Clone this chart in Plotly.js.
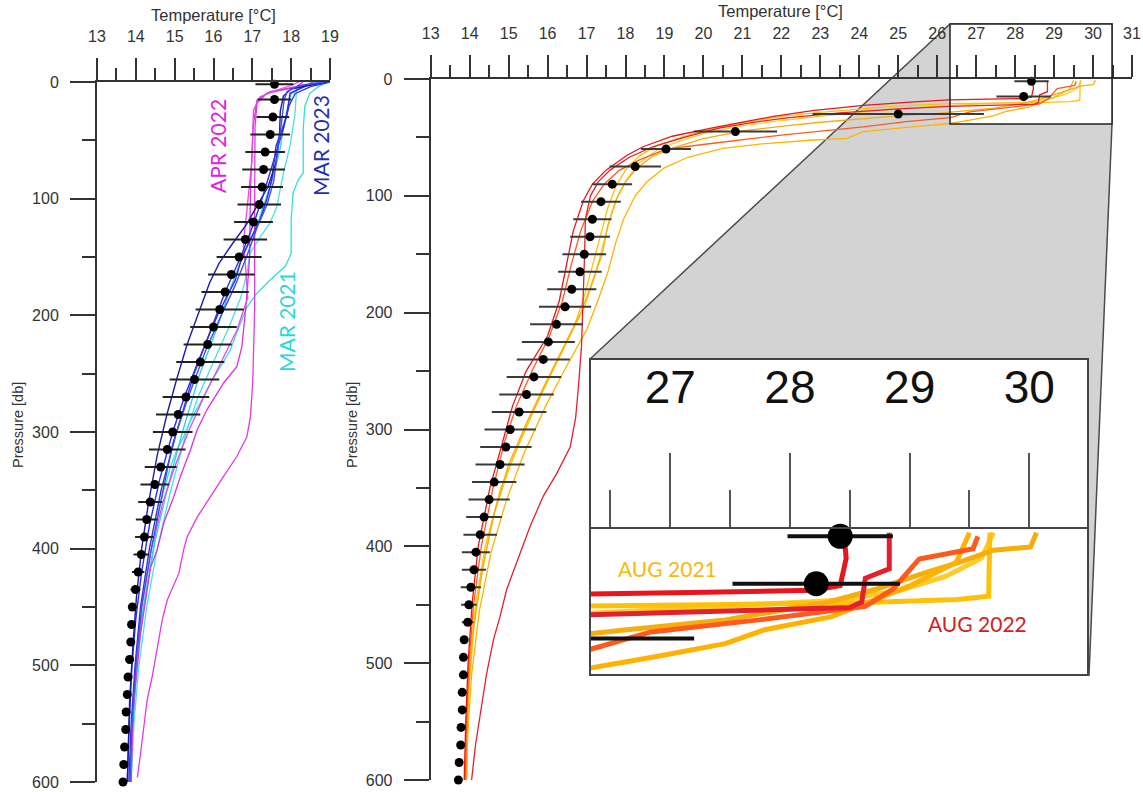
<!DOCTYPE html>
<html>
<head>
<meta charset="utf-8">
<script src="https://cdn.plot.ly/plotly-3.0.1.min.js"></script>
<style>
  html, body { margin: 0; padding: 0; background: #ffffff; }
  #chart { width: 1143px; height: 792px; }
</style>
</head>
<body>
<div id="chart"></div>
<script>
// ---------------- data ----------------
// Pressure bins (db) of the averaged profiles
const depthBins = [2,15,30,45,60,75,90,105,120,135,150,165,180,195,210,225,240,255,270,285,300,315,330,345,360,375,390,405,420,435,450,465,480,495,510,525,540,555,570,585,600];

// Spring (MAR/APR) mean temperature and spread
const springMeanT = [17.57,17.57,17.53,17.46,17.33,17.29,17.25,17.18,17.03,16.82,16.66,16.46,16.30,16.16,16.00,15.85,15.66,15.51,15.29,15.09,14.95,14.81,14.64,14.49,14.37,14.28,14.22,14.14,14.06,13.99,13.91,13.89,13.87,13.84,13.80,13.78,13.75,13.74,13.71,13.69,13.67];
const springStd   = [0.49,0.43,0.42,0.51,0.51,0.55,0.54,0.56,0.50,0.56,0.58,0.60,0.61,0.62,0.60,0.62,0.62,0.64,0.60,0.57,0.51,0.47,0.41,0.37,0.31,0.28,0.24,0.20,0.16,0.13,0.10,0.08,0.06,0.04,0,0,0,0,0,0,0];

// Summer (AUG) mean temperature and spread
const summerMeanT = [28.42,28.22,25.00,20.82,19.04,18.25,17.66,17.37,17.15,17.09,16.94,16.83,16.62,16.45,16.23,16.02,15.89,15.65,15.46,15.27,15.04,14.93,14.78,14.63,14.50,14.37,14.27,14.16,14.11,14.03,13.98,13.95,13.86,13.84,13.84,13.81,13.81,13.78,13.77,13.73,13.71];
const summerStd   = [0.44,0.70,2.20,1.07,0.64,0.66,0.51,0.51,0.49,0.51,0.56,0.56,0.63,0.67,0.68,0.68,0.68,0.70,0.70,0.70,0.66,0.66,0.63,0.57,0.53,0.46,0.43,0.36,0.31,0.26,0.20,0.15,0.10,0.08,0.05,0,0,0,0,0,0];

// APR 2022 profiles
const apr22a_p = [0,2.6,5.4,9.7,18.3,38,95,150,195,258,287,304,321,338,355,373,390,401,421,444,461,487,510,530,553,576,596];
const apr22a_t = [18.55,18.4,17.97,17.37,17.12,17.07,17.06,17.07,17.06,17.01,16.95,16.86,16.6,16.26,15.92,15.58,15.32,15.23,15.11,14.81,14.68,14.55,14.42,14.29,14.21,14.12,14.04];
const apr22b_p = [0,4,8.3,15.4,38,95,150,187,227,244,258,267,281,298,315,338,355,378,401,416,444,473,501,530,558,600];
const apr22b_t = [18.3,18.14,17.46,17.12,17.02,16.95,16.93,16.85,16.73,16.6,16.26,16.09,15.83,15.58,15.41,15.15,14.98,14.72,14.55,14.38,14.25,14.12,14.04,13.95,13.91,13.88];
const apr22c_p = [0,3,6.9,12.6,24,67,110,138,160,185,213,240,270,300,330,360,400,450,500,550,600];
const apr22c_t = [18.2,18.0,17.63,17.2,17.03,16.99,16.86,16.77,16.83,16.88,16.6,16.2,15.75,15.35,15.0,14.7,14.4,14.15,14.0,13.92,13.86];

// MAR 2023 profiles
const mar23a_p = [0,3,9.7,29.7,41,55,84,101,118,135,150,170,184,198,211,240,270,300,340,380,420,460,500,550,600];
const mar23a_t = [18.95,18.4,17.97,17.88,17.76,17.61,17.5,17.37,17.2,16.94,16.73,16.56,16.34,16.13,15.96,15.6,15.25,14.95,14.62,14.35,14.15,14.0,13.9,13.83,13.78];
const mar23b_p = [0,2.6,6,12,25,45,70,90,107,122,138,155,172,190,205,225,255,285,320,360,400,440,480,530,600];
const mar23b_t = [18.9,18.5,18.0,17.8,17.72,17.7,17.6,17.4,17.1,16.85,16.5,16.15,15.9,15.7,15.55,15.32,15.05,14.8,14.55,14.33,14.15,14.02,13.93,13.84,13.78];
const mar23c_p = [0,4,10,20,40,60,80,100,120,150,180,210,250,300,350,400,450,500,550,600];
const mar23c_t = [19.0,18.5,18.1,17.95,17.8,17.62,17.45,17.25,17.05,16.7,16.3,15.95,15.5,15.05,14.65,14.35,14.12,13.98,13.88,13.82];
const mar23d_p = [0,3,8,15,35,60,85,105,125,150,175,200,230,270,310,350,400,450,500,550,600];
const mar23d_t = [18.85,18.2,17.9,17.82,17.75,17.65,17.55,17.38,17.12,16.85,16.55,16.2,15.8,15.35,14.95,14.7,14.4,14.15,14.0,13.9,13.85];

// MAR 2021 profiles
const mar21a_p = [0,4,9.7,21,41,78,84,95,118,147,158,170,181,193,215,230,244,258,275,290,304,315,330,350,373,401,430,460,500,550,600];
const mar21a_t = [18.95,18.7,18.48,18.35,18.31,18.31,18.18,18.05,18.0,18.0,17.85,17.45,17.12,16.86,16.6,16.43,16.18,15.92,15.66,15.41,15.23,15.06,14.89,14.72,14.55,14.46,14.3,14.15,14.02,13.93,13.87];
const mar21b_p = [0,5,27,55,78,107,121,133,147,164,185,210,240,270,300,350,400,450,500,550,600];
const mar21b_t = [18.7,18.14,18.1,17.97,17.8,17.63,17.45,17.2,16.94,16.86,16.7,16.4,16.0,15.6,15.3,14.9,14.55,14.28,14.08,13.95,13.88];
const mar21c_p = [0,4,10,30,60,90,120,150,180,210,250,300,350,400,450,500,550,600];
const mar21c_t = [18.6,18.3,18.0,17.85,17.7,17.45,17.15,16.75,16.4,16.1,15.65,15.2,14.8,14.45,14.2,14.02,13.92,13.86];

// AUG 2022 profiles
const aug22a_p = [1,8,15.5,16.8,17.3,17.8,19.5,22.5,27,32,37,42,49,58,65,78,90,104,130,160,190,220,250,280,310,350,400,450,500,550,600];
const aug22a_t = [28.45,28.47,28.42,28.2,27.3,26.3,25.4,24.1,22.8,21.8,21.0,20.2,19.2,18.45,18.05,17.5,17.15,16.92,16.66,16.48,16.3,16.0,15.45,15.1,14.85,14.52,14.22,14.06,13.96,13.9,13.86];
const aug22b_p = [1,10.9,13.5,20,21.5,22.5,23.5,25.5,29,33,37.5,42,50,58,67,78,88,100,120,150,172,200,229,260,290,315,338,357,383,410,437,460,480,510,543,570,600];
const aug22b_t = [28.83,28.83,28.63,28.6,28.5,27.5,26.33,25.0,23.5,22.2,21.2,20.4,19.5,18.7,18.1,17.6,17.3,17.1,16.97,16.95,16.93,16.9,16.87,16.8,16.72,16.58,16.23,15.89,15.55,15.25,14.95,14.78,14.61,14.43,14.27,14.15,14.05];
const aug22c_p = [2,5.4,8.2,16.5,21.2,24.9,28.2,33,36.5,41,48,55,60,69,78,90,105,130,160,190,220,250,280,310,350,400,450,500,550,600];
const aug22c_t = [29.57,29.53,29.08,28.86,28.63,27.74,26.84,26.33,25.2,24.1,22.0,20.25,19.04,18.37,17.85,17.45,17.15,16.85,16.6,16.38,16.05,15.6,15.2,14.9,14.6,14.3,14.1,13.98,13.92,13.89];

// AUG 2021 profiles
const aug21a_p = [1,10,18.4,19.3,20.2,20.7,21.1,23,25.5,28.5,32,37,43,49,57,66,78,92,110,135,160,185,210,245,280,310,350,400,450,500,550,600];
const aug21a_t = [29.67,29.67,29.66,29.4,28.58,27.5,26.33,25.0,24.0,23.0,22.0,21.1,20.2,19.5,18.8,18.35,18.0,17.75,17.55,17.35,17.15,16.95,16.7,16.2,15.7,15.3,14.8,14.4,14.15,14.0,13.93,13.9];
const aug21b_p = [1,4.9,5.8,9.1,11.9,16.5,20.2,24.9,27.7,29.5,31.5,34,37,40.5,44.5,51,58,66,76,88,104,125,150,178,200,230,260,295,330,375,425,475,525,600];
const aug21b_t = [30.06,30.01,29.7,29.42,29.14,28.72,28.3,27.46,26.62,26.0,25.0,24.0,23.0,22.0,21.0,20.0,19.3,18.7,18.3,18.0,17.75,17.55,17.4,17.1,16.85,16.4,15.95,15.45,15.0,14.6,14.3,14.08,13.97,13.92];
const aug21c_p = [1,5,9.1,15.6,24,27.6,31.4,35.2,38.1,40.5,45,50.8,52.2,55.5,59.4,67,76,88,100,120,140,165,189,215,245,280,320,360,405,455,510,560,600];
const aug21c_t = [29.5,29.45,29.39,29.0,28.35,27.79,27.46,26.84,26.33,25.5,24.1,23.68,22.82,21.5,20.5,19.6,19.0,18.55,18.25,17.95,17.75,17.55,17.3,17.0,16.5,15.95,15.4,14.95,14.55,14.25,14.05,13.95,13.92];
const aug21d_p = [1,8,13,17,19.5,21.5,22.5,25,28,31.5,35.5,40,46,53,61,72,85,100,120,145,170,195,225,258,292,330,370,415,465,520,600];
const aug21d_t = [29.7,29.6,29.3,28.9,28.4,27.0,26.33,25.2,24.2,23.1,22.0,21.0,20.1,19.4,18.8,18.35,18.05,17.8,17.6,17.4,17.2,16.95,16.5,16.0,15.5,15.05,14.65,14.35,14.12,13.99,13.9];

// ---------------- layout helpers (pixel -> paper) ----------------
const W = 1143, H = 792;
const px = x => x / W;
const py = y => 1 - y / H;

const tickFont = { family: 'Liberation Sans, Arial, sans-serif', size: 16, color: '#333333' };
const axisBase = {
  showline: true, linecolor: '#333333', linewidth: 2,
  ticks: 'outside', tickcolor: '#333333', tickwidth: 2,
  showgrid: false, zeroline: false, fixedrange: true,
  tickfont: tickFont
};
// temperature axis: line and ticks (labels are carried by a companion axis)
const xTop = (domain, range, anchor) => Object.assign({}, axisBase, {
  domain, range, anchor, side: 'top', dtick: 1, tick0: 13, ticklen: 22,
  showticklabels: false,
  minor: { dtick: 0.5, tick0: 13, ticks: 'outside', ticklen: 12, tickwidth: 2, tickcolor: '#333333' }
});
// companion axis holding the temperature tick labels
const xLabels = (overlay, range, yPix) => ({
  overlaying: overlay, anchor: 'free', position: py(yPix), side: 'top', range,
  dtick: 1, tick0: 13, ticks: '', showline: false, showgrid: false, zeroline: false,
  fixedrange: true, tickfont: tickFont
});
const yLeft = (domain, anchor) => Object.assign({}, axisBase, {
  domain, range: [600, 0], anchor, dtick: 100, tick0: 0, ticklen: 25,
  ticklabelstandoff: 8,
  minor: { dtick: 50, tick0: 0, ticks: 'outside', ticklen: 13, tickwidth: 2, tickcolor: '#333333' }
});

// ---------------- traces ----------------
const traces = [];
function profile(p, t, color, xa, ya, w) {
  traces.push({ type: 'scatter', mode: 'lines', x: t, y: p, xaxis: xa, yaxis: ya,
    line: { color: color, width: w }, hoverinfo: 'skip', showlegend: false });
}

// left panel: spring profiles
profile(mar21a_p, mar21a_t, '#33dede', 'x', 'y', 1.3);
profile(mar21b_p, mar21b_t, '#45e3e8', 'x', 'y', 1.3);
profile(mar21c_p, mar21c_t, '#2ad0e2', 'x', 'y', 1.3);
profile(apr22a_p, apr22a_t, '#e23ae2', 'x', 'y', 1.3);
profile(apr22b_p, apr22b_t, '#dd30dd', 'x', 'y', 1.3);
profile(apr22c_p, apr22c_t, '#ea48ea', 'x', 'y', 1.3);
profile(mar23a_p, mar23a_t, '#2a2af5', 'x', 'y', 1.4);
profile(mar23b_p, mar23b_t, '#1c1ca2', 'x', 'y', 1.4);
profile(mar23c_p, mar23c_t, '#3232d8', 'x', 'y', 1.4);
profile(mar23d_p, mar23d_t, '#3f50e8', 'x', 'y', 1.4);

// right panel (main view and magnified inset): summer profiles
const summer = [
  [aug21d_p, aug21d_t, '#ffca2c'],
  [aug21a_p, aug21a_t, '#ffc00a'],
  [aug21b_p, aug21b_t, '#f6ae0c'],
  [aug21c_p, aug21c_t, '#ffb300'],
  [aug22c_p, aug22c_t, '#ff5a1e'],
  [aug22b_p, aug22b_t, '#e3202e'],
  [aug22a_p, aug22a_t, '#e8161c']
];
summer.forEach(s => profile(s[0], s[1], s[2], 'x2', 'y2', 1.3));
summer.forEach(s => profile(s[0], s[1], s[2], 'x3', 'y3', 5));

// mean profiles with spread bars
function meanTrace(t, p, err, xa, ya, size, thick, barColor) {
  return { type: 'scatter', mode: 'markers', x: t, y: p, xaxis: xa, yaxis: ya,
    marker: { color: '#000000', size: size },
    error_x: { type: 'data', array: err, symmetric: true, color: barColor, thickness: thick, width: 0 },
    cliponaxis: false, hoverinfo: 'skip', showlegend: false };
}
traces.push(meanTrace(springMeanT, depthBins, springStd, 'x', 'y', 9, 2, '#222222'));
traces.push(meanTrace(summerMeanT, depthBins, summerStd, 'x2', 'y2', 9, 2, '#3a3a3a'));
// inset: bars clipped to the window, the two shallow means drawn whole
const insetBars = meanTrace(summerMeanT, depthBins, summerStd, 'x3', 'y3', 0, 4, '#111111');
insetBars.cliponaxis = true;
traces.push(insetBars);
traces.push({ type: 'scatter', mode: 'markers', x: summerMeanT.slice(0, 2), y: depthBins.slice(0, 2),
  xaxis: 'x3', yaxis: 'y3', marker: { color: '#000000', size: 25 }, cliponaxis: false,
  hoverinfo: 'skip', showlegend: false });
// empty traces that register the label axes
traces.push({ type: 'scatter', mode: 'markers', x: [], y: [], xaxis: 'x4', yaxis: 'y', hoverinfo: 'skip', showlegend: false });
traces.push({ type: 'scatter', mode: 'markers', x: [], y: [], xaxis: 'x5', yaxis: 'y2', hoverinfo: 'skip', showlegend: false });

// ---------------- layout ----------------
const labelFont = (size, color) => ({ family: 'Lato, Open Sans, sans-serif', size: size, color: color });
const titleFont = { family: 'Liberation Sans, Arial, sans-serif', size: 16.5, color: '#333333' };
const pressFont = { family: 'Liberation Sans, Arial, sans-serif', size: 14.5, color: '#333333' };

const layout = {
  width: W, height: H,
  margin: { l: 0, r: 0, t: 0, b: 0 },
  paper_bgcolor: '#ffffff',
  plot_bgcolor: 'rgba(0,0,0,0)',
  showlegend: false,
  xaxis: xTop([px(97), px(330)], [13, 19], 'y'),
  yaxis: yLeft([py(782), py(82)], 'x'),
  xaxis2: xTop([px(430.7), px(1132)], [13, 31], 'y2'),
  yaxis2: yLeft([py(780), py(79)], 'x2'),
  xaxis4: xLabels('x', [13, 19], 45),
  xaxis5: xLabels('x2', [13, 31], 42),
  xaxis3: Object.assign({}, axisBase, {
    domain: [px(590), px(1088)], range: [26.33, 30.49], anchor: 'y3', side: 'top',
    dtick: 1, tick0: 27, ticklen: 74, tickwidth: 2, tickcolor: '#555555', linecolor: '#444444',
    ticklabelstandoff: 32,
    tickfont: { family: 'Liberation Sans, Arial, sans-serif', size: 46, color: '#111111' },
    minor: { dtick: 0.5, tick0: 26.5, ticks: 'outside', ticklen: 37, tickwidth: 2, tickcolor: '#555555' }
  }),
  yaxis3: {
    domain: [py(675), py(529)], range: [40, 0], anchor: 'x3',
    showline: false, showticklabels: false, ticks: '', showgrid: false, zeroline: false, fixedrange: true
  },
  shapes: [
    // magnification wedge
    { type: 'path', xref: 'paper', yref: 'paper', layer: 'below',
      path: `M ${px(950)},${py(24)} L ${px(1112)},${py(24)} L ${px(1112)},${py(124)} L ${px(1089)},${py(675)} L ${px(590)},${py(675)} L ${px(590)},${py(359)} Z`,
      fillcolor: '#d3d3d3', line: { color: '#4a4a4a', width: 1.5 } },
    // zoom window and inset backgrounds
    { type: 'rect', xref: 'paper', yref: 'paper', layer: 'below',
      x0: px(950), x1: px(1112), y0: py(124), y1: py(24), fillcolor: '#ffffff', line: { width: 0 } },
    { type: 'rect', xref: 'paper', yref: 'paper', layer: 'below',
      x0: px(590), x1: px(1088), y0: py(675), y1: py(359), fillcolor: '#ffffff', line: { width: 0 } },
    // frames
    { type: 'rect', xref: 'paper', yref: 'paper', layer: 'above',
      x0: px(950), x1: px(1112), y0: py(124), y1: py(24), fillcolor: 'rgba(0,0,0,0)',
      line: { color: '#222222', width: 1.5 } },
    { type: 'rect', xref: 'paper', yref: 'paper', layer: 'above',
      x0: px(590), x1: px(1088), y0: py(675), y1: py(359), fillcolor: 'rgba(0,0,0,0)',
      line: { color: '#444444', width: 2 } }
  ],
  annotations: [
    { text: 'Temperature [°C]', xref: 'paper', yref: 'paper', x: px(213), y: py(15),
      xanchor: 'center', yanchor: 'middle', showarrow: false, font: titleFont },
    { text: 'Temperature [°C]', xref: 'paper', yref: 'paper', x: px(780), y: py(11),
      xanchor: 'center', yanchor: 'middle', showarrow: false, font: titleFont },
    { text: 'Pressure [db]', xref: 'paper', yref: 'paper', x: px(18), y: py(425), textangle: -90,
      xanchor: 'center', yanchor: 'middle', showarrow: false, font: pressFont },
    { text: 'Pressure [db]', xref: 'paper', yref: 'paper', x: px(352), y: py(425), textangle: -90,
      xanchor: 'center', yanchor: 'middle', showarrow: false, font: pressFont },
    { text: 'APR 2022', xref: 'paper', yref: 'paper', x: px(217), y: py(146), textangle: -90,
      xanchor: 'center', yanchor: 'middle', showarrow: false, font: labelFont(21, '#e020e0') },
    { text: 'MAR 2023', xref: 'paper', yref: 'paper', x: px(320), y: py(146), textangle: -90,
      xanchor: 'center', yanchor: 'middle', showarrow: false, font: labelFont(21, '#1f2fae') },
    { text: 'MAR 2021', xref: 'paper', yref: 'paper', x: px(286), y: py(322), textangle: -90,
      xanchor: 'center', yanchor: 'middle', showarrow: false, font: labelFont(21, '#2ad8d8') },
    { text: 'AUG 2021', xref: 'paper', yref: 'paper', x: px(667), y: py(568),
      xanchor: 'center', yanchor: 'middle', showarrow: false, font: labelFont(21, '#f5b914') },
    { text: 'AUG 2022', xref: 'paper', yref: 'paper', x: px(977), y: py(623),
      xanchor: 'center', yanchor: 'middle', showarrow: false, font: labelFont(21, '#d42020') }
  ]
};

Plotly.newPlot('chart', traces, layout, { displayModeBar: false, staticPlot: true });
</script>
</body>
</html>
